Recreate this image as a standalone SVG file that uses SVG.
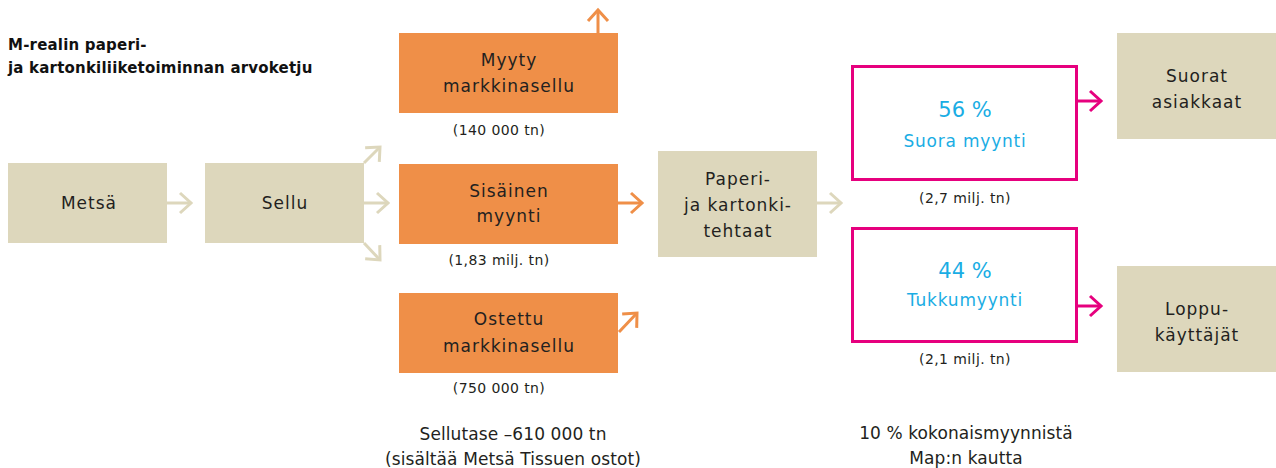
<svg xmlns="http://www.w3.org/2000/svg" width="1276" height="468" viewBox="0 0 1276 468">
<style>
.beige{fill:#DDD7BC}
.orange{fill:#EF8F48}
.pink{fill:#fff;stroke:#E6007E;stroke-width:3}
.t{font-family:"DejaVu Sans",Verdana,sans-serif;font-size:17px;fill:#231F20;text-anchor:middle;letter-spacing:1px}
.b{font-family:"DejaVu Sans",Verdana,sans-serif;font-size:17px;fill:#231F20;text-anchor:middle;letter-spacing:0.1px}
.s{font-family:"DejaVu Sans",Verdana,sans-serif;font-size:14px;fill:#231F20;text-anchor:middle;letter-spacing:0.4px}
.title{font-family:"DejaVu Sans",Verdana,sans-serif;font-size:15px;font-weight:bold;fill:#111;letter-spacing:0.2px}
.blue{font-family:"DejaVu Sans",Verdana,sans-serif;fill:#1AADE4;text-anchor:middle}
.cb{fill:none;stroke:#DDD7BC;stroke-width:3}
.co{fill:none;stroke:#EF8F48;stroke-width:3}
.cp{fill:none;stroke:#E6007E;stroke-width:3}
</style>
<defs>
<marker id="hb" markerUnits="userSpaceOnUse" viewBox="-14 -13 17 26" refX="0" refY="0" markerWidth="17" markerHeight="26" orient="auto"><path d="M-11,-10 L0,0 L-11,10" fill="none" stroke="#DDD7BC" stroke-width="3"/></marker>
<marker id="ho" markerUnits="userSpaceOnUse" viewBox="-14 -13 17 26" refX="0" refY="0" markerWidth="17" markerHeight="26" orient="auto"><path d="M-11,-10 L0,0 L-11,10" fill="none" stroke="#EF8F48" stroke-width="3"/></marker>
<marker id="hp" markerUnits="userSpaceOnUse" viewBox="-14 -13 17 26" refX="0" refY="0" markerWidth="17" markerHeight="26" orient="auto"><path d="M-11,-10 L0,0 L-11,10" fill="none" stroke="#E6007E" stroke-width="3"/></marker>
</defs>
<rect width="1276" height="468" fill="#fff"/>
<g id="title">
<text class="title" x="8" y="50">M-realin paperi-</text>
<text class="title" x="8" y="73">ja kartonkiliiketoiminnan arvoketju</text>
</g>
<g id="connectors">
<line class="cb" x1="167" y1="203" x2="191" y2="203" marker-end="url(#hb)"/>
<line class="cb" x1="364" y1="203" x2="388" y2="203" marker-end="url(#hb)"/>
<line class="cb" x1="364" y1="163" x2="380" y2="147" marker-end="url(#hb)"/>
<line class="cb" x1="364" y1="243" x2="380" y2="260" marker-end="url(#hb)"/>
<line class="co" x1="598" y1="33" x2="598" y2="10" marker-end="url(#ho)"/>
<line class="co" x1="618" y1="203" x2="642" y2="203" marker-end="url(#ho)"/>
<line class="co" x1="619" y1="332" x2="637" y2="313" marker-end="url(#ho)"/>
<line class="cb" x1="817" y1="203" x2="841" y2="203" marker-end="url(#hb)"/>
<line class="cp" x1="1077" y1="101" x2="1101" y2="101" marker-end="url(#hp)"/>
<line class="cp" x1="1077" y1="306" x2="1101" y2="306" marker-end="url(#hp)"/>
</g>
<g id="metsa">
<rect class="beige" x="8" y="163" width="159" height="80"/>
<text class="t" x="89" y="209">Metsä</text>
</g>
<g id="sellu">
<rect class="beige" x="205" y="163" width="159" height="80"/>
<text class="t" x="285" y="209">Sellu</text>
</g>
<g id="myyty">
<rect class="orange" x="399" y="33" width="219" height="80"/>
<text class="t" x="509" y="66">Myyty</text>
<text class="t" x="509" y="92">markkinasellu</text>
<text class="s" x="499" y="135">(140 000 tn)</text>
</g>
<g id="sisainen">
<rect class="orange" x="399" y="164" width="219" height="80"/>
<text class="t" x="509" y="197">Sisäinen</text>
<text class="t" x="509" y="222">myynti</text>
<text class="s" x="499" y="265">(1,83 milj. tn)</text>
</g>
<g id="ostettu">
<rect class="orange" x="399" y="293" width="219" height="80"/>
<text class="t" x="509" y="325">Ostettu</text>
<text class="t" x="509" y="352">markkinasellu</text>
<text class="s" x="499" y="393">(750 000 tn)</text>
</g>
<g id="sellutase">
<text class="b" x="513" y="440">Sellutase –610 000 tn</text>
<text class="b" x="513" y="465">(sisältää Metsä Tissuen ostot)</text>
</g>
<g id="tehtaat">
<rect class="beige" x="658" y="151" width="159" height="106"/>
<text class="t" x="738" y="185">Paperi-</text>
<text class="t" x="738" y="211">ja kartonki-</text>
<text class="t" x="738" y="237">tehtaat</text>
</g>
<g id="suora">
<rect class="pink" x="852.5" y="66.5" width="224" height="113"/>
<text class="blue" x="965" y="117" font-size="21">56 %</text>
<text class="blue" x="965" y="147" font-size="17" letter-spacing="0.8">Suora myynti</text>
<text class="s" x="965" y="203">(2,7 milj. tn)</text>
</g>
<g id="tukku">
<rect class="pink" x="852.5" y="228.5" width="224" height="113"/>
<text class="blue" x="965" y="278" font-size="21">44 %</text>
<text class="blue" x="965" y="306" font-size="17" letter-spacing="0.8">Tukkumyynti</text>
<text class="s" x="965" y="364">(2,1 milj. tn)</text>
</g>
<g id="map">
<text class="b" x="966" y="439">10 % kokonaismyynnistä</text>
<text class="b" x="966" y="464">Map:n kautta</text>
</g>
<g id="suorat">
<rect class="beige" x="1117" y="33" width="159" height="106"/>
<text class="t" x="1197" y="82">Suorat</text>
<text class="t" x="1197" y="108">asiakkaat</text>
</g>
<g id="loppu">
<rect class="beige" x="1117" y="266" width="159" height="106"/>
<text class="t" x="1197" y="315">Loppu-</text>
<text class="t" x="1197" y="341">käyttäjät</text>
</g>
</svg>
